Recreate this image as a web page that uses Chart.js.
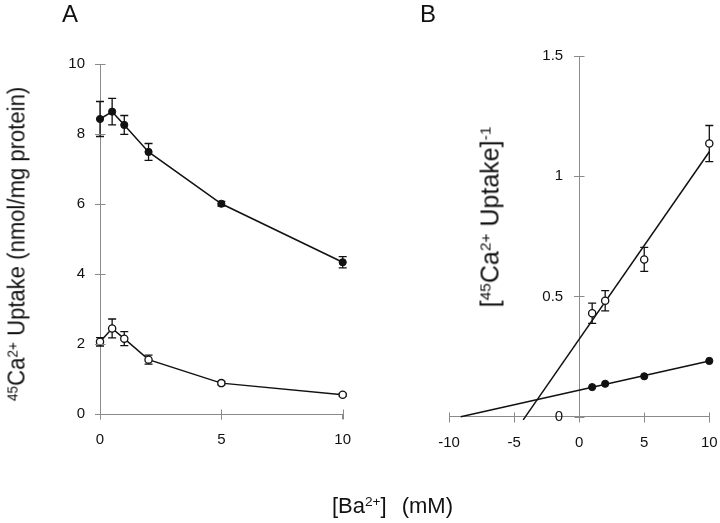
<!DOCTYPE html>
<html><head><meta charset="utf-8">
<script src="https://cdn.jsdelivr.net/npm/chart.js@4"></script>
<style>
html,body{margin:0;padding:0;background:#fff;}
#wrap{position:relative;width:720px;height:523px;overflow:hidden;font-family:'Liberation Sans',Arial,sans-serif;color:#111;}
canvas{position:absolute;top:0;}
#cA{left:0;} #cB{left:360px;}
.lbl{position:absolute;white-space:nowrap;line-height:1;}
sup{font-size:0.62em;vertical-align:0.5em;line-height:0;}
</style></head>
<body>
<div id="wrap">
<canvas id="cA" width="380" height="523"></canvas>
<canvas id="cB" width="380" height="523"></canvas>
<div class="lbl" style="left:62px;top:2px;font-size:24px;">A</div>
<div class="lbl" style="left:420px;top:2px;font-size:24px;">B</div>
<div class="lbl" style="left:17px;top:244px;font-size:23px;transform:translate(-50%,-50%) rotate(-90deg) scaleX(0.96);"><sup>45</sup>Ca<sup>2+</sup> Uptake (nmol/mg protein)</div>
<div class="lbl" style="left:490px;top:217px;font-size:25px;transform:translate(-50%,-50%) rotate(-90deg);">[<sup>45</sup>Ca<sup>2+</sup> Uptake]<sup>-1</sup></div>
<div class="lbl" style="left:332px;top:495px;font-size:22px;">[Ba<sup>2+</sup>]<span style="margin-left:15px">(mM)</span></div>
</div>
<script>
// ---- Panel A data ----
const baConcA = [0, 0.5, 1, 2, 5, 10];
const uptakeFilled = [8.43, 8.64, 8.26, 7.49, 6.01, 4.34];
const errFilled = [0.5, 0.38, 0.27, 0.24, 0.07, 0.16];
const uptakeOpen = [2.07, 2.45, 2.16, 1.56, 0.89, 0.56];
const errOpen = [0.12, 0.27, 0.2, 0.13, 0.05, 0.04];
const ticksAx = [0, 5, 10];
const ticksAy = [0, 2, 4, 6, 8, 10];
// ---- Panel B data ----
const baConcB = [1, 2, 5, 10];
const invOpen = [0.43, 0.482, 0.654, 1.136];
const errInvOpen = [0.042, 0.042, 0.05, 0.075];
const invFilled = [0.123, 0.137, 0.168, 0.232];
const fitOpenX = [-4.3, 10];
const fitOpenY = [-0.013, 1.102];
const fitFilledX = [-9.1, 10];
const fitFilledY = [0, 0.232];
const ticksBx = [-10, -5, 0, 5, 10];
const ticksBy = [0, 0.5, 1, 1.5];

Chart.defaults.font.family = "'Liberation Sans', Arial, sans-serif";
Chart.defaults.color = '#111';

const AXIS = '#8a8a8a';
const TL = 5;

const pts = (xs, ys) => xs.map((x, i) => ({x, y: ys[i]}));

// error bars drawn through the chart's scales
const errorBarPlugin = {
  id: 'errbars',
  beforeDatasetsDraw(chart) {
    const ctx = chart.ctx;
    const xs = chart.scales.x, ys = chart.scales.y;
    chart.data.datasets.forEach(ds => {
      if (!ds.errors) return;
      ctx.save();
      ctx.strokeStyle = '#111';
      ctx.lineWidth = 1.3;
      ds.data.forEach((p, i) => {
        const e = ds.errors[i];
        const px = xs.getPixelForValue(p.x);
        const top = ys.getPixelForValue(p.y + e);
        const bot = ys.getPixelForValue(p.y - e);
        ctx.beginPath();
        ctx.moveTo(px, top); ctx.lineTo(px, bot);
        ctx.moveTo(px - 4, top); ctx.lineTo(px + 4, top);
        ctx.moveTo(px - 4, bot); ctx.lineTo(px + 4, bot);
        ctx.stroke();
      });
      ctx.restore();
    });
  }
};
// tick marks that cross the axis lines
const crossTicks = {
  id: 'crossTicks',
  afterDraw(chart) {
    const ctx = chart.ctx;
    const xs = chart.scales.x, ys = chart.scales.y;
    const yAxisPx = Math.round(xs.getPixelForValue(Math.max(xs.min, 0))) + 0.5;
    const xAxisPx = Math.round(ys.getPixelForValue(ys.min)) + 0.5;
    ctx.save();
    ctx.strokeStyle = AXIS; ctx.lineWidth = 1;
    ctx.beginPath();
    xs.ticks.forEach(t => {
      const p = Math.round(xs.getPixelForValue(t.value)) + 0.5;
      ctx.moveTo(p, xAxisPx + TL); ctx.lineTo(p, xAxisPx - TL);
    });
    ys.ticks.forEach(t => {
      const p = Math.round(ys.getPixelForValue(t.value)) + 0.5;
      ctx.moveTo(yAxisPx - TL, p); ctx.lineTo(yAxisPx + TL, p);
    });
    ctx.stroke();
    ctx.restore();
  }
};
// shift labels of an axis that sits at x = 0 away from the axis line
const shiftYLabels = {
  id: 'shiftYLabels',
  beforeDraw(chart, args, opts) {
    const s = chart.scales.y;
    const items = s.getLabelItems(chart.chartArea);
    items.forEach(it => {
      if (!it._shifted) { it.options.translation[0] -= opts.shift; it._shifted = true; }
    });
  }
};

function axisCommon(extra) {
  return Object.assign({
    type: 'linear',
    grid: {drawOnChartArea: false, drawTicks: true, tickLength: TL, color: AXIS},
    border: {display: true, color: AXIS, width: 1},
  }, extra);
}
function fixedTicks(list) {
  return function(scale) { scale.ticks = list.map(v => ({value: v})); };
}
const plainLabel = v => String(v);

new Chart(document.getElementById('cA'), {
  type: 'scatter',
  data: {
    datasets: [
      {data: pts(baConcA, uptakeFilled), errors: errFilled, showLine: true, clip: false,
       borderColor: '#111', borderWidth: 1.5, pointRadius: 3.6,
       pointBackgroundColor: '#111', pointBorderColor: '#111', pointBorderWidth: 1},
      {data: pts(baConcA, uptakeOpen), errors: errOpen, showLine: true, clip: false,
       borderColor: '#111', borderWidth: 1.5, pointRadius: 3.6,
       pointBackgroundColor: '#fff', pointBorderColor: '#111', pointBorderWidth: 1.3}
    ]
  },
  options: {
    responsive: false, animation: false, devicePixelRatio: 1,
    layout: {padding: {left: 0, right: 37.3, top: 64, bottom: 68.7}},
    plugins: {legend: {display: false}, tooltip: {enabled: false}},
    scales: {
      x: axisCommon({min: 0, max: 10, afterBuildTicks: fixedTicks(ticksAx),
          ticks: {font: {size: 15}, padding: 12, maxRotation: 0, callback: plainLabel},
          afterFit: s => { s.height = 40; }}),
      y: axisCommon({min: 0, max: 10, afterBuildTicks: fixedTicks(ticksAy),
          ticks: {font: {size: 15}, padding: 10, callback: plainLabel},
          afterFit: s => { s.width = 100; }})
    }
  },
  plugins: [errorBarPlugin, crossTicks]
});

new Chart(document.getElementById('cB'), {
  type: 'scatter',
  data: {
    datasets: [
      {data: pts(baConcB, invOpen), errors: errInvOpen, showLine: false, clip: false,
       pointRadius: 3.6, pointBackgroundColor: '#fff', pointBorderColor: '#111', pointBorderWidth: 1.3},
      {data: pts(baConcB, invFilled), showLine: false, clip: false,
       pointRadius: 3.6, pointBackgroundColor: '#111', pointBorderColor: '#111', pointBorderWidth: 1},
      {data: pts(fitOpenX, fitOpenY), showLine: true, pointRadius: 0,
       borderColor: '#111', borderWidth: 1.5, clip: 8},
      {data: pts(fitFilledX, fitFilledY), showLine: true, pointRadius: 0,
       borderColor: '#111', borderWidth: 1.5, clip: 8}
    ]
  },
  options: {
    responsive: false, animation: false, devicePixelRatio: 1,
    layout: {padding: {left: 89, right: 30.7, top: 56, bottom: 66.3}},
    plugins: {legend: {display: false}, tooltip: {enabled: false}, shiftYLabels: {shift: 16}},
    scales: {
      x: axisCommon({min: -10, max: 10, afterBuildTicks: fixedTicks(ticksBx),
          ticks: {font: {size: 15}, padding: 12, maxRotation: 0, callback: plainLabel},
          afterFit: s => { s.height = 40; }}),
      y: axisCommon({min: 0, max: 1.5, position: {x: 0}, afterBuildTicks: fixedTicks(ticksBy),
          ticks: {font: {size: 15}, padding: 12, callback: plainLabel},
          afterFit: s => { s.width = 0; }})
    }
  },
  plugins: [errorBarPlugin, crossTicks, shiftYLabels]
});
</script>
</body></html>
